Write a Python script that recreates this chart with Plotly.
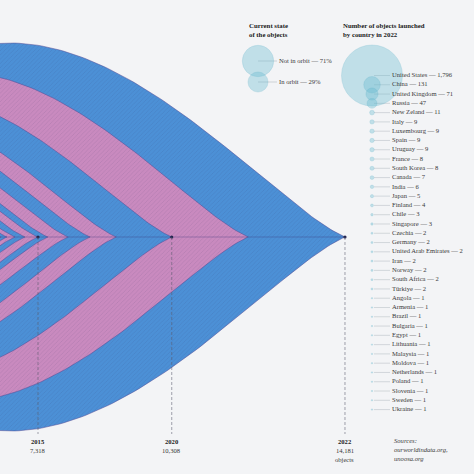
import numpy as np
import plotly.graph_objects as go

# ---------------- data ----------------
years = [2011, 2012, 2013, 2014, 2015, 2016, 2017, 2018, 2019, 2020, 2021, 2022]
cumulative_objects = [6490, 6625, 6805, 7027, 7318, 7539, 7992, 8482, 9068, 10308, 12018, 14181]
labeled_years = [2015, 2020, 2022]

state_labels = ["Not in orbit", "In orbit"]
state_share = [71, 29]

countries = ["United States", "China", "United Kingdom", "Russia", "New Zeland", "Italy",
             "Luxembourg", "Spain", "Uruguay", "France", "South Korea", "Canada", "India",
             "Japan", "Finland", "Chile", "Singapore", "Czechia", "Germany",
             "United Arab Emirates", "Iran", "Norway", "South Africa", "Türkiye", "Angola",
             "Armenia", "Brazil", "Bulgaria", "Egypt", "Lithuania", "Malaysia", "Moldova",
             "Netherlands", "Poland", "Slovenia", "Sweden", "Ukraine"]
launches_2022 = [1796, 131, 71, 47, 11, 9, 9, 9, 9, 8, 8, 7, 6, 5, 4, 3, 3, 2, 2, 2, 2, 2, 2, 2,
                 1, 1, 1, 1, 1, 1, 1, 1, 1, 1, 1, 1, 1]

# ---------------- style ----------------
W = H = 474
BG = "#f3f4f6"
BLUE = "#4c90d6"
PINK = "#c98abf"
EDGE = "rgba(80,75,150,0.75)"
TEAL = "rgba(100,185,208,0.5)"
TEAL_LINE = "rgba(80,170,195,0.55)"
SERIF = "Liberation Serif"
TXT = "#3a3a3a"

# scales: pixels per object
PX_X = 0.04473
PX_Y = 0.01368
X0 = 7318 - 38 / PX_X          # count at left edge
XR = [X0, X0 + W / PX_X]
YR = [-(H / 2) / PX_Y, (H / 2) / PX_Y]

fig = go.Figure()

# lens profile (cubic bezier, peak -> tip)
u = np.linspace(0, 1, 90)
a, c, d = 0.4, 0.8, 0.15
bt = 3 * (1 - u) ** 2 * u * a + 3 * (1 - u) * u ** 2 * c + u ** 3
bf = (1 - u) ** 3 + 3 * (1 - u) ** 2 * u + 3 * (1 - u) * u ** 2 * d
EXTRA = 400  # extra half-width (style)

order = list(range(len(years)))[::-1]  # biggest first
for rank, i in enumerate(order):
    n = cumulative_objects[i]
    hw = n / 2 + EXTRA
    pk = n - hw
    xl = pk - hw * bt[::-1]
    yl = n * bf[::-1]
    xr = pk + hw * bt
    yr = n * bf
    xt = np.concatenate([xl, xr[1:]])
    yt = np.concatenate([yl, yr[1:]])
    xs = np.concatenate([xt, xt[::-1]])
    ys = np.concatenate([yt, -yt[::-1]])
    col = BLUE if rank % 2 == 0 else PINK
    fig.add_trace(go.Scatter(
        x=xs, y=ys, mode="lines", fill="toself", fillcolor=col,
        line=dict(color=EDGE, width=0.7),
        fillpattern=dict(shape="/", bgcolor=col, fgcolor="rgba(40,40,90,1)",
                         fgopacity=0.12, size=3, solidity=0.25),
        hoverinfo="skip", showlegend=False))

# center line
fig.add_trace(go.Scatter(x=[X0, cumulative_objects[-1]], y=[0, 0], mode="lines",
                         line=dict(color="rgba(60,55,120,0.35)", width=1.2),
                         hoverinfo="skip", showlegend=False))

# dashed guide lines + dots + labels
lab_x = [cumulative_objects[years.index(y)] for y in labeled_years]
for k, (yr, n) in enumerate(zip(labeled_years, lab_x)):
    fig.add_shape(type="line", xref="x", yref="paper", x0=n, x1=n,
                  y0=0.5, y1=1 - 434 / H,
                  line=dict(color="rgba(90,90,110,0.7)", width=0.8, dash="3px,2px"))
    fig.add_annotation(x=n, xref="x", y=1 - 441 / H, yref="paper", text=f"<b>{yr}</b>",
                       showarrow=False, font=dict(family=SERIF, size=6.6, color="#222"),
                       xanchor="center", yanchor="middle")
    fig.add_annotation(x=n, xref="x", y=1 - 450 / H, yref="paper", text=f"{n:,}",
                       showarrow=False, font=dict(family=SERIF, size=6.6, color=TXT),
                       xanchor="center", yanchor="middle")
    if k == len(labeled_years) - 1:
        fig.add_annotation(x=n, xref="x", y=1 - 459 / H, yref="paper", text="objects",
                           showarrow=False, font=dict(family=SERIF, size=6.6, color=TXT),
                           xanchor="center", yanchor="middle")
fig.add_trace(go.Scatter(x=lab_x, y=[0] * len(lab_x), mode="markers",
                         marker=dict(color="#24264f", size=3.2),
                         hoverinfo="skip", showlegend=False))

# ---------------- legends (pixel overlay axes) ----------------
st_x = 258
st_y = [61, 82]
st_d = [2 * 15.7 * np.sqrt(s / state_share[0]) for s in state_share]
lx, ly = [], []
for yy in st_y:
    lx += [st_x, 277, None]
    ly += [yy, yy, None]
fig.add_trace(go.Scatter(x=lx, y=ly, mode="lines", xaxis="x2", yaxis="y2",
                         line=dict(color="rgba(150,160,170,0.8)", width=0.5),
                         hoverinfo="skip", showlegend=False))
fig.add_trace(go.Scatter(x=[st_x] * 2, y=st_y, mode="markers", xaxis="x2", yaxis="y2",
                         marker=dict(size=st_d, color=TEAL, line=dict(color=TEAL_LINE, width=0.5)),
                         hoverinfo="skip", showlegend=False))
fig.add_trace(go.Scatter(x=[279] * 2, y=st_y, mode="text", xaxis="x2", yaxis="y2",
                         text=[f"{l} — {s}%" for l, s in zip(state_labels, state_share)],
                         textposition="middle right",
                         textfont=dict(family=SERIF, size=6.6, color=TXT),
                         hoverinfo="skip", showlegend=False))

c_x = 372
row0, row_step = 75.5, 9.28
c_y = [row0 + i * row_step for i in range(len(countries))]
c_d = [2 * 30.5 * np.sqrt(v / launches_2022[0]) for v in launches_2022]
lx, ly = [], []
for yy in c_y:
    lx += [374, 390, None]
    ly += [yy, yy, None]
fig.add_trace(go.Scatter(x=lx, y=ly, mode="lines", xaxis="x2", yaxis="y2",
                         line=dict(color="rgba(150,160,170,0.7)", width=0.5),
                         hoverinfo="skip", showlegend=False))
fig.add_trace(go.Scatter(x=[c_x] * len(c_y), y=c_y, mode="markers", xaxis="x2", yaxis="y2",
                         marker=dict(size=c_d, color=TEAL, line=dict(color=TEAL_LINE, width=0.5)),
                         hoverinfo="skip", showlegend=False))
fig.add_trace(go.Scatter(x=[392] * len(c_y), y=c_y, mode="text", xaxis="x2", yaxis="y2",
                         text=[f"{n} — {v:,}" for n, v in zip(countries, launches_2022)],
                         textposition="middle right",
                         textfont=dict(family=SERIF, size=6.6, color=TXT),
                         hoverinfo="skip", showlegend=False))


def ptxt(x, y, t, size=6.8, color="#1a1a1a", bold=True, italic=False):
    s = t
    if bold:
        s = f"<b>{s}</b>"
    if italic:
        s = f"<i>{s}</i>"
    fig.add_annotation(x=x / W, y=1 - y / H, xref="paper", yref="paper", text=s,
                       showarrow=False, xanchor="left", yanchor="middle",
                       font=dict(family=SERIF, size=size, color=color))


ptxt(247, 25, "Current state")
ptxt(247, 34, "of the objects")
ptxt(341, 25, "Number of objects launched")
ptxt(341, 34, "by country in 2022")
ptxt(392, 440, "Sources:", size=6.6, color=TXT, bold=False, italic=True)
ptxt(392, 449, "ourworldindata.org,", size=6.6, color=TXT, bold=False, italic=True)
ptxt(392, 458, "unoosa.org", size=6.6, color=TXT, bold=False, italic=True)

fig.update_layout(
    width=W, height=H, margin=dict(l=0, r=0, t=0, b=0),
    paper_bgcolor=BG, plot_bgcolor=BG, showlegend=False,
    xaxis=dict(range=XR, visible=False, fixedrange=True),
    yaxis=dict(range=YR, visible=False, fixedrange=True),
    xaxis2=dict(range=[0, W], visible=False, overlaying="x", anchor="y2", fixedrange=True),
    yaxis2=dict(range=[H, 0], visible=False, overlaying="y", anchor="x2", fixedrange=True),
)

fig.write_html("out.html", config={"displayModeBar": False},
               post_script="document.body.style.margin='0';document.body.style.background='#f3f4f6';")
